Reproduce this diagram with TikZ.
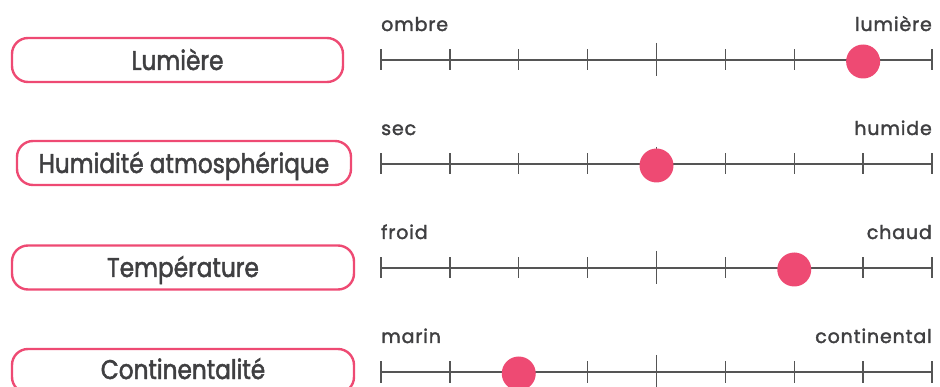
\documentclass[tikz,border=0pt]{standalone}
\usepackage{fontspec}
\setmainfont{Poppins}[FakeBold=1.6]
\newfontfamily\boxfont{Poppins}[FakeStretch=0.86, FakeBold=1.8]
\newfontfamily\labelfont{Poppins}[LetterSpace=4.5, FakeBold=1.8]
\definecolor{rose}{HTML}{EE4A73}
\definecolor{ink}{HTML}{3F3F41}
\definecolor{axisgray}{HTML}{555555}
\tikzset{
  factor/.style={draw=rose, line width=2.4pt, rounded corners=16pt, minimum height=44pt, inner sep=0pt},
  factortext/.style={font=\boxfont\fontsize{27}{27}\selectfont, text=ink, anchor=base, inner sep=0pt},
  endlabel/.style={font=\labelfont\fontsize{19}{19}\selectfont, text=ink},
  axisline/.style={draw=axisgray, line width=1.4pt},
  marker/.style={circle, fill=rose, minimum size=34pt, inner sep=0pt}
}
\begin{document}
\begin{tikzpicture}[x=1pt, y=-1pt]
\useasboundingbox (0,0) rectangle (940,387);

% label boxes
\node[factor, minimum width=331pt] (b1) at (177.5,60) {};
\node[factor, minimum width=334pt] (b2) at (184,163) {};
\node[factor, minimum width=342pt] (b3) at (183,267.5) {};
\node[factor, minimum width=342pt] (b4) at (183,371) {};
\node[factortext] (t1) at (177.5,70) {Lumière};
\node[factortext] (t2) at (184,173) {Humidité atmosphérique};
\node[factortext] (t3) at (183,277) {Température};
\node[factortext] (t4) at (183,379) {Continentalité};

% scales: eight intervals, longer tick in the middle
\foreach \k/\yy/\lo/\hi/\pos in {1/60/ombre/lumière/7, 2/164/sec/humide/4, 3/268/froid/chaud/6, 4/372/marin/continental/2}{
  \coordinate (a\k) at (381,\yy);
  \coordinate (z\k) at (932,\yy);
  \draw[axisline] (a\k) -- (z\k);
  \foreach \i in {0,...,8}{
    \pgfmathsetmacro{\xx}{381+68.875*\i}
    \ifnum\i=4
      \draw[axisline] (\xx,\yy-17) -- (\xx,\yy+16);
    \else
      \draw[axisline] (\xx,\yy-10.5) -- (\xx,\yy+10.5);
    \fi
  }
  \node[endlabel, anchor=base west, inner sep=0pt] (lo\k) at (381,\yy-29) {\lo};
  \node[endlabel, anchor=base east, inner sep=0pt] (hi\k) at (932,\yy-29) {\hi};
  \pgfmathsetmacro{\mx}{381+68.875*\pos}
  \node[marker] (m\k) at (\mx,\yy+1.5) {};
}
\end{tikzpicture}
\end{document}
